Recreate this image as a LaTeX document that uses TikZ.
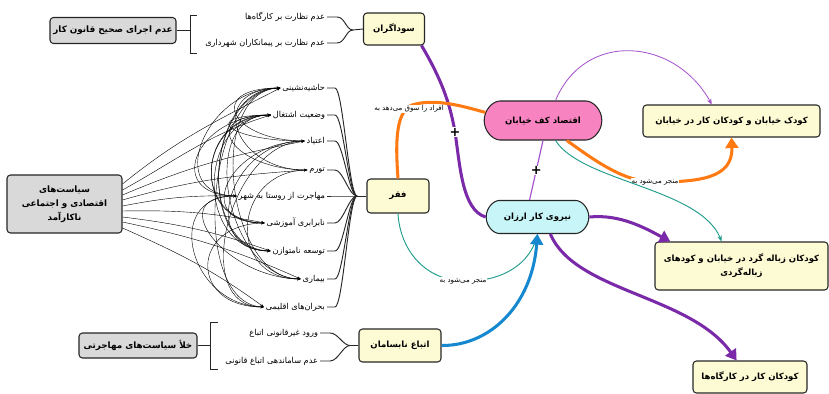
\documentclass[tikz,border=0pt]{standalone}
\usepackage{fontspec}
\usetikzlibrary{arrows.meta,shapes.misc}
\TeXXeTstate=1
\newfontfamily\fa[Script=Arabic]{DejaVu Sans}
\newcommand{\rtl}[1]{{\fa\beginR #1\endR}}
\definecolor{boxyellow}{HTML}{FDFBD3}
\definecolor{boxgray}{HTML}{D9D9D9}
\definecolor{boxpink}{HTML}{F783C0}
\definecolor{boxcyan}{HTML}{C8F6F8}
\definecolor{darkpurple}{HTML}{7A2AA8}
\definecolor{lightpurple}{HTML}{A452CC}
\definecolor{arroworange}{HTML}{FF7A12}
\definecolor{arrowteal}{HTML}{1F9C8C}
\definecolor{arrowblue}{HTML}{1588D0}
\tikzset{
	box/.style={draw=black!85,line width=0.9pt,rounded corners=3pt,fill=boxyellow,align=center,inner sep=1pt,font=\fa\bfseries\fontsize{7.3}{12}\selectfont},
	graybox/.style={box,fill=boxgray,font=\fa\bfseries\fontsize{7.5}{12}\selectfont},
	pill/.style={box,rounded rectangle},
	item/.style={inner sep=1.5pt,font=\fa\fontsize{7}{8}\selectfont},
	note/.style={fill=white,inner sep=0.5pt,font=\fa\fontsize{6}{7}\selectfont},
	plus/.style={fill=white,inner sep=0.6pt,text=black,font=\fa\bfseries\fontsize{11}{11}\selectfont},
	branch/.style={line width=0.8pt,draw=black!85},
	web/.style={line width=0.35pt,-{Stealth[length=3pt,width=2.4pt]}},
	fat/.style={line width=2.6pt},
	bigtip/.style={-{Triangle[length=9pt,width=11pt]}}
}
\begin{document}
\begin{tikzpicture}[x=0.03cm,y=-0.03cm]
	\useasboundingbox (0,0) rectangle (829,394);
	\node[graybox,minimum width=3.78cm,minimum height=0.78cm] (qanun) at (113,30.5) {\rtl{عدم اجرای صحیح قانون کار}};
	\node[graybox,minimum width=3.45cm,minimum height=1.74cm] (pol) at (64.5,204) {\rtl{سیاست^^^^200cهای}\\\rtl{اقتصادی و اجتماعی}\\\rtl{ناکارآمد}};
	\node[graybox,minimum width=3.54cm,minimum height=0.75cm] (khala) at (138,345.5) {\rtl{خلأ سیاست^^^^200cهای مهاجرتی}};
	\node[box,minimum width=1.83cm,minimum height=0.96cm] (sod) at (394,29) {\rtl{سوداگران}};
	\node[box,minimum width=1.86cm,minimum height=1.02cm] (faqr) at (398,196) {\rtl{فقر}};
	\node[box,minimum width=2.46cm,minimum height=0.99cm] (atba) at (400,345.5) {\rtl{اتباع نابسامان}};
	\node[pill,fill=boxpink,minimum width=3.6cm,minimum height=1.17cm] (eqt) at (543,120.5) {\rtl{اقتصاد کف خیابان}};
	\node[pill,fill=boxcyan,minimum width=3.15cm,minimum height=0.99cm] (niru) at (537.5,217) {\rtl{نیروی کار ارزان}};
	\node[box,minimum width=5.31cm,minimum height=0.96cm] (kudak) at (731.5,121) {\rtl{کودک خیابان و کودکان کار در خیابان}};
	\node[box,minimum width=5.19cm,minimum height=1.44cm] (zobale) at (741.5,266) {\rtl{کودکان زباله گرد در خیابان و کودهای}\\\rtl{زباله^^^^200cگردی}};
	\node[box,minimum width=3.42cm,minimum height=0.96cm] (kargah) at (750,377) {\rtl{کودکان کار در کارگاه^^^^200cها}};

	\draw[branch] (197,15) -- (190,15) -- (190,53) -- (197,53);
	\coordinate (bq) at (190,30.5);
	\draw[branch] (qanun.east) -- (bq);
	\node[item,anchor=east] (s1) at (327,17) {\rtl{عدم نظارت بر کارگاه^^^^200cها}};
	\node[item,anchor=east] (s2) at (327,43) {\rtl{عدم نظارت بر پیمانکاران شهرداری}};
	\coordinate (fs) at (353,30);
	\foreach \s in {s1,s2}
		\draw[branch] (\s.east) -- ++(10,0) .. controls +(8,0) and (346,30) .. (fs);
	\draw[branch] (fs) -- (sod.west);

	\draw[branch] (218,322) -- (210,322) -- (210,369) -- (218,369);
	\coordinate (bk) at (210,345.5);
	\draw[branch] (khala.east) -- (bk);
	\node[item,anchor=east] (a1) at (320,333) {\rtl{ورود غیرقانونی اتباع}};
	\node[item,anchor=east] (a2) at (320,361) {\rtl{عدم ساماندهی اتباع قانونی}};
	\coordinate (fa) at (350,345.5);
	\foreach \s in {a1,a2}
		\draw[branch] (\s.east) -- ++(10,0) .. controls +(8,0) and (343,345.5) .. (fa);
	\draw[branch] (fa) -- (atba.west);

	\foreach \i/\y/\t in {1/88/{حاشیه^^^^200cنشینی},2/115/{وضعیت اشتغال},3/141/{اعتیاد},4/170/{تورم},5/196/{مهاجرت از روستا به شهر},6/223/{نابرابری آموزشی},7/251/{توسعه نامتوازن},8/279/{بیماری},9/307/{بحران^^^^200cهای اقلیمی}}
		\node[item,anchor=east] (f\i) at (327,\y) {\rtl{\t}};
	\coordinate (fq) at (357,196);
	\foreach \i in {1,...,9}
		\draw[branch] (f\i.east) -- ++(8,0) .. controls +(8,0) and (349,196) .. (fq);
	\draw[branch] (fq) -- (faqr.west);
	\foreach \i/\d/\a [evaluate=\a as \o using \a+6, evaluate=\a as \n using 174+\a] in {1/-20/33,2/-14/23,3/-9/17,4/-4/10,5/2/5,6/7/-5,7/13/-13,8/18/-18,9/24/-30}
		\draw[web] (pol.east) ++(0,\d) to[out=\o,in=\n] (f\i.west);
	\foreach \a/\b in {5/1,5/2,9/1,8/2,7/1,6/2,4/2,3/1,1/4,2/3,1/7,2/6,3/9,1/8,4/8,7/3,9/5,6/9,8/5,2/7,3/6}
		\draw[web] (f\a.west) .. controls +(-75,0) and +(-75,0) .. (f\b.west);

	\draw[fat,darkpurple] ([xshift=-3pt]sod.south east) .. controls (445,85) and (451,110) .. (455,132) node[plus] (p1) {+} .. controls (460,165) and (462,210) .. (niru.west);
	\draw[lightpurple,line width=1pt] (eqt.south) -- (niru.115) node[midway,plus] (p2) {+};
	\draw[fat,arroworange] (faqr.north) .. controls (396,150) and (394,112) .. (412,105) .. controls (435,98) and (462,106) .. (eqt.172);
	\node[note] (n1) at (409,109) {\rtl{افراد را سوق می^^^^200cدهد به}};
	\draw[lightpurple,line width=0.7pt,-{Stealth[length=5pt,width=4pt]}] (eqt.58) .. controls (585,30) and (675,38) .. (kudak.140);
	\draw[fat,arroworange,bigtip] (eqt.-40) .. controls (598,163) and (625,182) .. (655,182) .. controls (700,182) and (733,178) .. (kudak.south);
	\node[note] (n2) at (655,182) {\rtl{منجر می^^^^200cشود به}};
	\draw[arrowteal,line width=0.8pt,-{Stealth[length=5pt,width=4pt]}] (eqt.-58) .. controls (582,182) and (700,188) .. (zobale.129);
	\draw[arrowteal,line width=0.8pt,-{Stealth[length=5pt,width=4pt]}] (faqr.south) .. controls (400,250) and (425,280) .. (463,281) .. controls (505,282) and (530,262) .. (niru.south);
	\node[note] (n3) at (463,281) {\rtl{منجر می^^^^200cشود به}};
	\draw[fat,arrowblue,bigtip] (atba.east) .. controls (490,346) and (532,305) .. (niru.south);
	\draw[fat,darkpurple,bigtip] (niru.east) .. controls (620,214) and (645,228) .. (zobale.161);
	\draw[fat,darkpurple,bigtip] (niru.-53) .. controls (575,292) and (690,295) .. (kargah.129);
\end{tikzpicture}
\end{document}
